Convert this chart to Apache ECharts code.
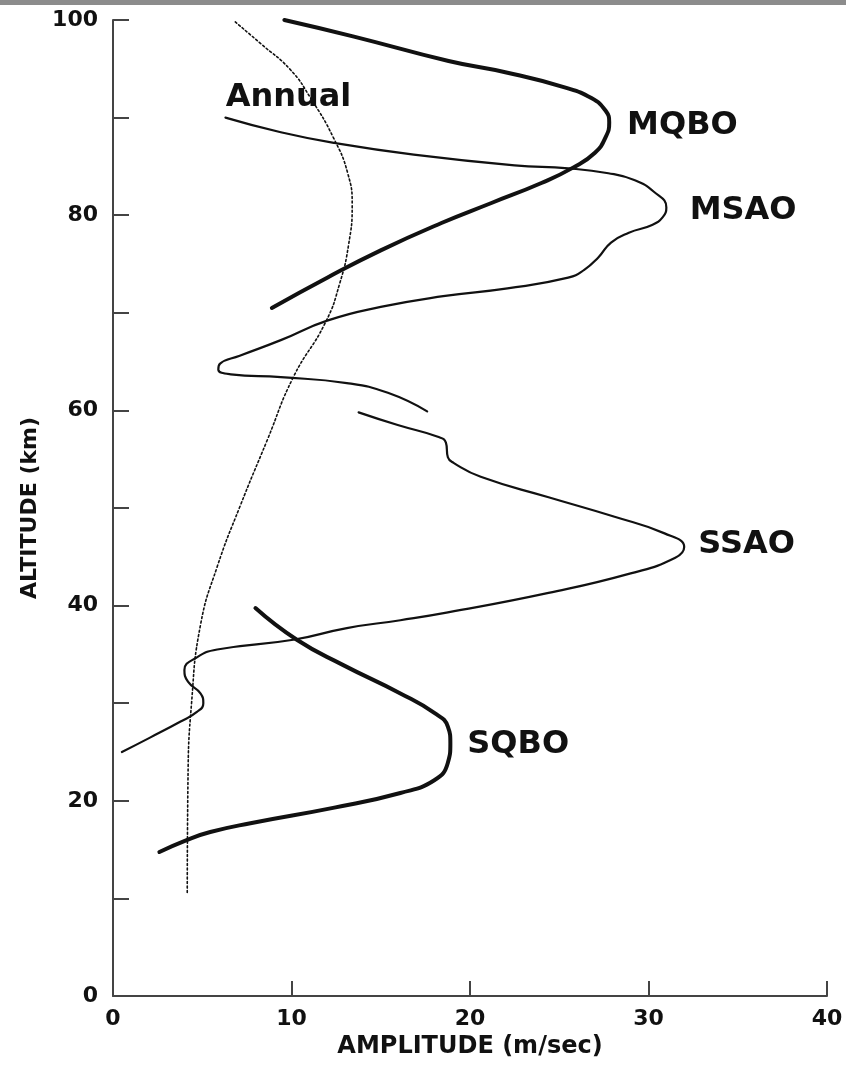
<!DOCTYPE html>
<html>
<head>
<meta charset="utf-8">
<script src="https://cdn.jsdelivr.net/npm/echarts@6/dist/echarts.min.js"></script>
<style>
html,body{margin:0;padding:0;background:#fff;}
#chart{width:846px;height:1070px;}
</style>
</head>
<body>
<div id="chart"></div>
<script>
// Amplitude (m/sec), Altitude (km) pairs
const mqbo = [[9.6,100],[13.5,98.3],[18.8,95.8],[22.1,94.6],[25.3,93.1],[26.8,92.0],[27.6,90.7],[27.8,89.5],[27.6,88.0],[27.0,86.4],[25.8,84.9],[24.0,83.3],[21.2,81.25],[18.4,79.2],[15.0,76.4],[12.0,73.6],[8.9,70.5]];
const msao = [[6.3,90.0],[9.4,88.5],[12.4,87.4],[16.85,86.2],[22.5,85.1],[25.5,84.8],[27.75,84.3],[29.2,83.6],[30.3,82.4],[31.0,80.8],[30.8,79.8],[30.2,79.0],[28.9,78.2],[27.9,77.2],[27.2,75.7],[26.4,74.4],[25.5,73.6],[22.1,72.5],[18.5,71.7],[15.0,70.6],[12.0,69.2],[9.4,67.2],[7.1,65.6],[6.0,64.8],[5.9,64.2],[6.6,63.7],[9.4,63.4],[13.1,62.8],[15.4,61.8],[17.6,59.9]];
const ssao = [[13.76,59.8],[15.95,58.5],[18.2,57.3],[18.65,56.7],[18.76,55.2],[19.1,54.6],[20.6,53.2],[24.4,51.1],[28.1,49.1],[30.9,47.4],[32.0,46.0],[31.5,44.9],[29.0,43.3],[24.4,41.3],[18.76,39.3],[16.1,38.5],[13.1,37.7],[10.1,36.5],[5.84,35.5],[4.7,34.7],[4.0,33.4],[4.2,32.2],[4.9,31.0],[5.06,30.0],[4.7,29.1],[3.76,28.1],[2.1,26.5],[0.5,25.0]];
const sqbo = [[7.98,39.75],[10.3,36.5],[12.9,33.9],[16.1,31.0],[18.0,29.0],[18.76,27.6],[18.9,25.9],[18.76,23.9],[18.0,22.1],[16.1,20.8],[12.4,19.3],[7.7,17.7],[5.45,16.8],[4.16,16.0],[2.6,14.75]];
const annual = [[6.85,99.8],[8.26,97.6],[9.94,94.9],[11.07,92.0],[12.36,87.9],[13.15,84.3],[13.4,81.0],[13.2,77.0],[12.7,73.0],[11.9,69.0],[10.1,63.4],[8.65,57.0],[7.1,50.1],[5.84,44.0],[4.9,38.0],[4.4,30.0],[4.2,22.1],[4.16,10.6]];
const curveLabels = [[9.83,92.0,'Annual'],[31.9,89.2,'MQBO'],[35.3,80.5,'MSAO'],[35.5,46.2,'SSAO'],[22.7,25.7,'SQBO']];
const xTicks = [0,10,20,30,40];
const yTicks = [0,20,40,60,80,100];

const FONT = 'DejaVu Sans';
const chart = echarts.init(document.getElementById('chart'), null, {renderer:'canvas'});
function lineSeries(name, data, width, type){
  return {name:name, type:'line', data:data, smooth:0.5, symbol:'none', clip:false,
    lineStyle:{color:'#111', width:width, type:type||'solid', cap:'round', join:'round'}, z:3};
}
chart.setOption({
  backgroundColor:'#ffffff',
  animation:false,
  graphic:[{type:'rect', left:0, top:0, shape:{width:846, height:5}, style:{fill:'#8c8c8c'}}],
  grid:{left:113, right:19, top:20, bottom:74},
  xAxis:{type:'value', min:0, max:40, interval:10,
    name:'AMPLITUDE (m/sec)', nameLocation:'middle', nameGap:36,
    nameTextStyle:{fontFamily:FONT, fontWeight:'bold', fontSize:24, color:'#111'},
    axisLine:{lineStyle:{color:'#444', width:2}},
    axisTick:{inside:true, length:15, lineStyle:{color:'#444', width:2}},
    axisLabel:{fontFamily:FONT, fontWeight:'bold', fontSize:22, color:'#111', margin:12,
      formatter:function(v){return xTicks.indexOf(v)>=0 ? String(v) : '';}},
    splitLine:{show:false}},
  yAxis:{type:'value', min:0, max:100, interval:10,
    name:'ALTITUDE (km)', nameLocation:'middle', nameGap:70, nameRotate:90,
    nameTextStyle:{fontFamily:FONT, fontWeight:'bold', fontSize:22, color:'#111'},
    axisLine:{show:true, lineStyle:{color:'#444', width:2}},
    axisTick:{show:true, inside:true, length:16, lineStyle:{color:'#444', width:2}},
    axisLabel:{fontFamily:FONT, fontWeight:'bold', fontSize:22, color:'#111', margin:15,
      formatter:function(v){return yTicks.indexOf(v)>=0 ? String(v) : '';}},
    splitLine:{show:false}},
  series:[
    lineSeries('Annual', annual, 1.6, [2,2.5]),
    lineSeries('MQBO', mqbo, 4),
    lineSeries('MSAO', msao, 2.2),
    lineSeries('SSAO', ssao, 2.2),
    lineSeries('SQBO', sqbo, 4),
    {type:'scatter', data:curveLabels.map(function(d){return {value:[d[0],d[1]], name:d[2]};}),
      symbolSize:1, silent:true, z:5,
      itemStyle:{opacity:1, color:'rgba(0,0,0,0)'},
      label:{show:true, position:'inside', formatter:function(p){return p.name;},
        fontFamily:FONT, fontWeight:'bold', fontSize:32, color:'#111', opacity:1}}
  ]
});
</script>
</body>
</html>
